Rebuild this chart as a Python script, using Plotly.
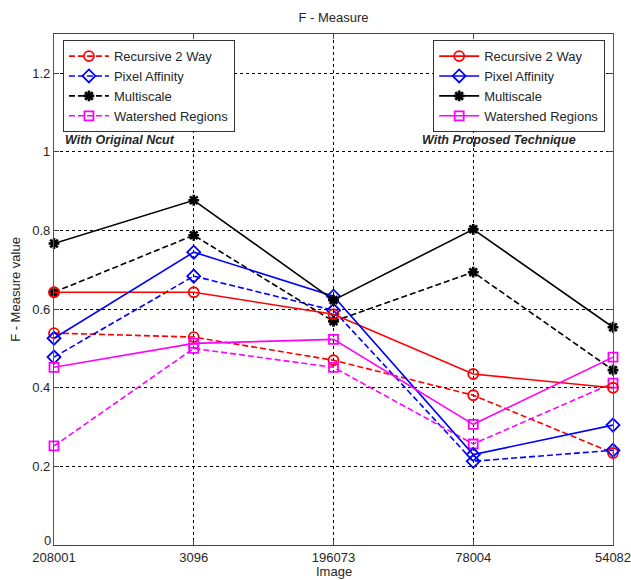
import plotly.graph_objects as go

# Test images along the x axis
images = ["208001", "3096", "196073", "78004", "54082"]
positions = [1, 2, 3, 4, 5]

# F-measure with the original Ncut (dashed lines)
orig_recursive = [0.539, 0.529, 0.470, 0.381, 0.234]
orig_pixel = [0.478, 0.684, 0.597, 0.213, 0.241]
orig_multiscale = [0.643, 0.788, 0.569, 0.694, 0.445]
orig_watershed = [0.252, 0.500, 0.452, 0.257, 0.412]

# F-measure with the proposed technique (solid lines)
prop_recursive = [0.643, 0.643, 0.587, 0.435, 0.400]
prop_pixel = [0.526, 0.745, 0.633, 0.230, 0.305]
prop_multiscale = [0.767, 0.877, 0.623, 0.803, 0.554]
prop_watershed = [0.452, 0.513, 0.523, 0.307, 0.478]

# y ticks; the label at zero is drawn separately, lifted clear of the x labels
y_ticks = [0, 0.2, 0.4, 0.6, 0.8, 1.0, 1.2]
y_tick_text = ["", "0.2", "0.4", "0.6", "0.8", "1", "1.2"]
y_zero_label = "0"

series_names = ["Recursive 2 Way", "Pixel Affinity", "Multiscale", "Watershed Regions"]
colors = ["#ff0000", "#0000ff", "#000000", "#ff00ff"]
symbols = ["circle-open", "diamond-open", "asterisk-open", "square-open"]
sizes = [10, 10, 9, 9]
marker_widths = [1.8, 1.8, 2.6, 1.8]

FONT = "Liberation Sans, Arial, sans-serif"
TXT = "#262626"

fig = go.Figure()

orig_sets = [orig_recursive, orig_pixel, orig_multiscale, orig_watershed]
prop_sets = [prop_recursive, prop_pixel, prop_multiscale, prop_watershed]

for name, vals, c, s, sz, mw in zip(series_names, orig_sets, colors, symbols, sizes, marker_widths):
    fig.add_trace(go.Scatter(
        x=positions, y=vals, name=name, mode="lines+markers",
        line=dict(color=c, width=1.6, dash="6px,3px"),
        marker=dict(symbol=s, size=sz, color=c, line=dict(color=c, width=mw)),
        legend="legend", cliponaxis=False,
    ))

for name, vals, c, s, sz, mw in zip(series_names, prop_sets, colors, symbols, sizes, marker_widths):
    fig.add_trace(go.Scatter(
        x=positions, y=vals, name=name, mode="lines+markers",
        line=dict(color=c, width=1.6),
        marker=dict(symbol=s, size=sz, color=c, line=dict(color=c, width=mw)),
        legend="legend2", cliponaxis=False,
    ))

legend_style = dict(
    bgcolor="white", bordercolor="#333333", borderwidth=1,
    font=dict(family=FONT, size=13, color=TXT),
    yanchor="top", tracegroupgap=0, itemwidth=40,
)

fig.update_layout(
    width=631, height=580,
    margin=dict(l=54, r=18, t=34, b=35),
    paper_bgcolor="white", plot_bgcolor="white",
    font=dict(family=FONT, size=13, color=TXT),
    title=dict(text="F - Measure", x=(54 + 613) / 2 / 631, xanchor="center",
               y=1 - 17 / 580, yanchor="middle", font=dict(size=13, color=TXT)),
    legend=dict(x=0.016, y=0.988, xanchor="left", **legend_style),
    legend2=dict(x=0.986, y=0.988, xanchor="right", **legend_style),
    xaxis=dict(
        range=[1, 5], tickvals=positions, ticktext=images,
        showgrid=True, gridcolor="black", griddash="3px,3px", gridwidth=1,
        showline=True, linecolor="#444444", linewidth=1, mirror="ticks",
        ticks="inside", ticklen=5, tickcolor="#444444",
        zeroline=False, automargin=False, ticklabeloverflow="allow",
        ticklabelstandoff=0,
        tickfont=dict(size=13, color=TXT),
    ),
    yaxis=dict(
        range=[0, 1.3], tickvals=y_ticks, ticktext=y_tick_text,
        showgrid=True, gridcolor="black", griddash="3px,3px", gridwidth=1,
        showline=True, linecolor="#555555", linewidth=1.3, mirror="ticks",
        ticks="inside", ticklen=5, tickcolor="#444444",
        zeroline=False, automargin=False, ticklabeloverflow="allow",
        title=dict(text="F - Measure value", standoff=8, font=dict(size=13)),
        tickfont=dict(size=13, color=TXT),
    ),
    annotations=[
        dict(text=y_zero_label, xref="paper", yref="y",
             x=0, y=y_ticks[0], xanchor="right", yanchor="bottom", xshift=-2,
             yshift=-4, showarrow=False, borderpad=0,
             font=dict(size=13, color=TXT)),
        dict(text="Image", xref="paper", yref="paper",
             x=0.5, y=-0.0685, xanchor="center", yanchor="bottom", showarrow=False,
             borderpad=0, font=dict(size=13, color=TXT)),
        dict(text="<b><i>With Original Ncut</i></b>", xref="paper", yref="paper",
             x=0.016, y=0.792, xanchor="left", yanchor="middle", showarrow=False,
             font=dict(size=12.5, color=TXT)),
        dict(text="<b><i>With Proposed Technique</i></b>", xref="paper", yref="paper",
             x=0.937, y=0.792, xanchor="right", yanchor="middle", showarrow=False,
             font=dict(size=12.5, color=TXT)),
    ],
)

fig.write_html("out.html")
